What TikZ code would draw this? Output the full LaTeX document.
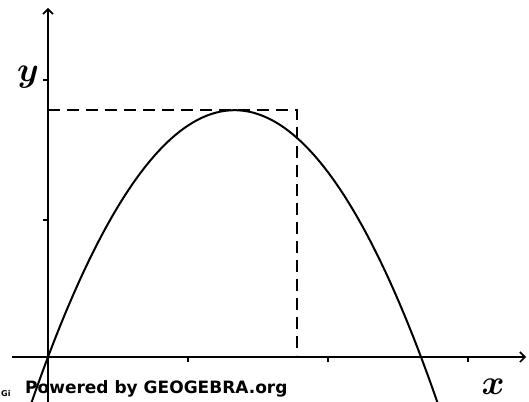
\documentclass[tikz,border=0pt]{standalone}
\usepackage[no-math]{fontspec}
\newfontfamily\ggfont{DejaVu Sans}
\usetikzlibrary{arrows.meta}
\begin{document}
\begin{tikzpicture}[x=1pt,y=-1pt,
  axis/.style={line width=2pt,-{Straight Barb[length=5pt,width=10pt,line width=1.6pt]}},
  tickmark/.style={line width=1.8pt},
  curve/.style={line width=2pt},
  guide/.style={line width=2pt,dash pattern=on 12pt off 7pt},
  lbl/.style={font=\Huge\boldmath,scale=1.4,inner sep=0pt,anchor=base},
  brand/.style={font=\ggfont\bfseries\fontsize{17}{17}\selectfont,inner sep=0pt}]
\useasboundingbox (0,0) rectangle (529,401);
\coordinate (O) at (48,357);
\coordinate (xs) at (12,357);
\coordinate (xe) at (526,357);
\coordinate (ys) at (48,402);
\coordinate (ye) at (48,8);
\coordinate (top) at (48,110);
\coordinate (corner) at (297,110);
\coordinate (foot) at (297,355);
\node[brand,anchor=base west] (pw) at (25,393) {Powered by GEOGEBRA.org};
\node[font=\ggfont\bfseries\fontsize{8}{8}\selectfont,inner sep=0pt,anchor=base west] (gi) at (1,396) {Gi};
\begin{scope}
\clip (0,0) rectangle (529,401);
\draw[curve] plot[domain=30:440,samples=120,smooth] (\x,{357-0.0071*(\x-48)*(421-\x)});
\end{scope}
\draw[axis] (xs) -- (xe);
\draw[axis] (ys) -- (ye);
\foreach \t in {188,328,468} \draw[tickmark] (\t,357) -- (\t,362);
\foreach \t in {220,80} \draw[tickmark] (43,\t) -- (48,\t);
\draw[guide] (top) -- (corner) -- (foot);
\node[lbl] (ylab) at (28,82) {$y$};
\node[lbl] (xlab) at (493,394) {$x$};
\end{tikzpicture}
\end{document}
